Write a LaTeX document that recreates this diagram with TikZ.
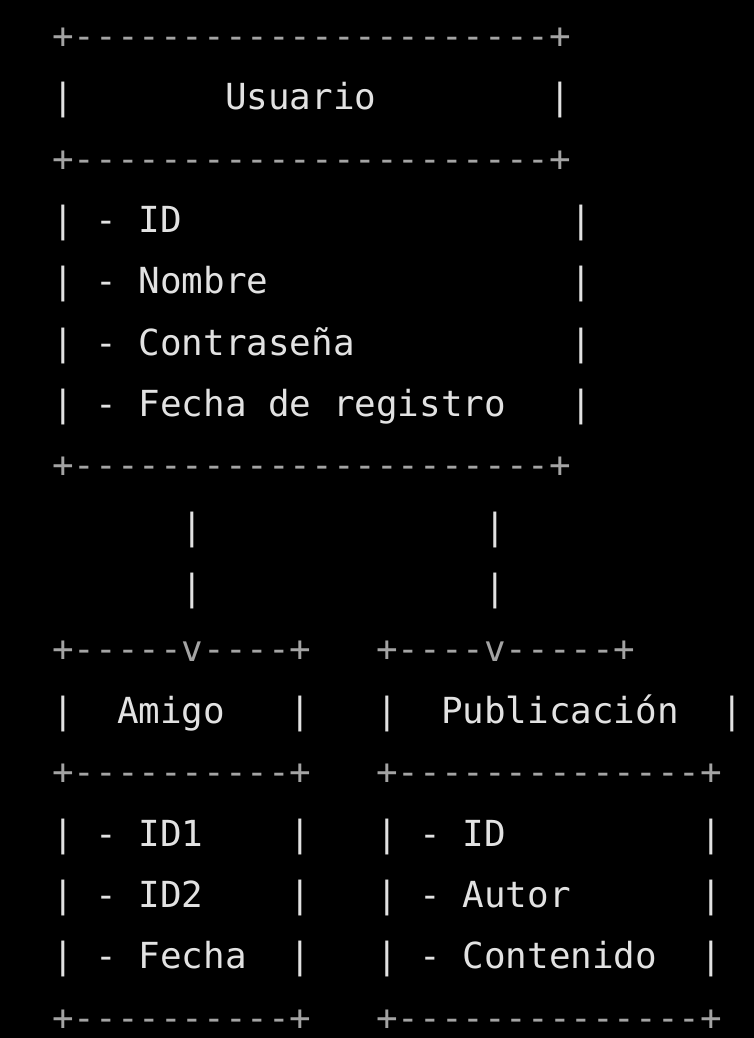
\documentclass[tikz,border=0pt]{standalone}
\usepackage{fontspec}
\newfontfamily\asciimono[Ligatures=TeXOff]{DejaVu Sans Mono}
\definecolor{txt}{HTML}{E2E2E2}
\definecolor{rulec}{HTML}{A4A4A4}
\begin{document}
\begin{tikzpicture}[x=21.6pt,y=-61.35pt,
  ascii/.style={font=\asciimono\fontsize{35.9pt}{40pt}\selectfont, inner sep=0pt, outer sep=0pt, anchor=base west, text=txt},
  rule/.style={ascii, text=rulec}]
\fill[black] (0pt,0pt) rectangle (754pt,-1038pt);
\useasboundingbox (0pt,0pt) rectangle (754pt,-1038pt);
\begin{scope}[shift={(52.2pt,-48.45pt)}]
% Usuario box
\node[rule]  (u-top)    at (0,0) {+----------------------+};
\node[ascii] (u-title)  at (0,1) {|~~~~~~~Usuario~~~~~~~~|};
\node[rule]  (u-sep)    at (0,2) {+----------------------+};
\node[ascii] (u-id)     at (0,3) {|~-~ID~~~~~~~~~~~~~~~~~~|};
\node[ascii] (u-nombre) at (0,4) {|~-~Nombre~~~~~~~~~~~~~~|};
\node[ascii] (u-pass)   at (0,5) {|~-~Contraseña~~~~~~~~~~|};
\node[ascii] (u-fecha)  at (0,6) {|~-~Fecha~de~registro~~~|};
\node[rule]  (u-bottom) at (0,7) {+----------------------+};
% links
\node[ascii] (link-a1) at (6,8) {|};
\node[ascii] (link-a2) at (6,9) {|};
\node[ascii] (link-p1) at (20,8) {|};
\node[ascii] (link-p2) at (20,9) {|};
% Amigo box
\node[rule]  (a-top)    at (0,10) {+-----v----+};
\node[ascii] (a-title)  at (0,11) {|~~Amigo~~~|};
\node[rule]  (a-sep)    at (0,12) {+----------+};
\node[ascii] (a-id1)    at (0,13) {|~-~ID1~~~~|};
\node[ascii] (a-id2)    at (0,14) {|~-~ID2~~~~|};
\node[ascii] (a-fecha)  at (0,15) {|~-~Fecha~~|};
\node[rule]  (a-bottom) at (0,16) {+----------+};
% Publicacion box
\node[rule]  (p-top)    at (15,10) {+----v-----+};
\node[ascii] (p-title)  at (15,11) {|~~Publicación~~|};
\node[rule]  (p-sep)    at (15,12) {+--------------+};
\node[ascii] (p-id)     at (15,13) {|~-~ID~~~~~~~~~|};
\node[ascii] (p-autor)  at (15,14) {|~-~Autor~~~~~~|};
\node[ascii] (p-cont)   at (15,15) {|~-~Contenido~~|};
\node[rule]  (p-bottom) at (15,16) {+--------------+};
\end{scope}
\end{tikzpicture}
\end{document}
